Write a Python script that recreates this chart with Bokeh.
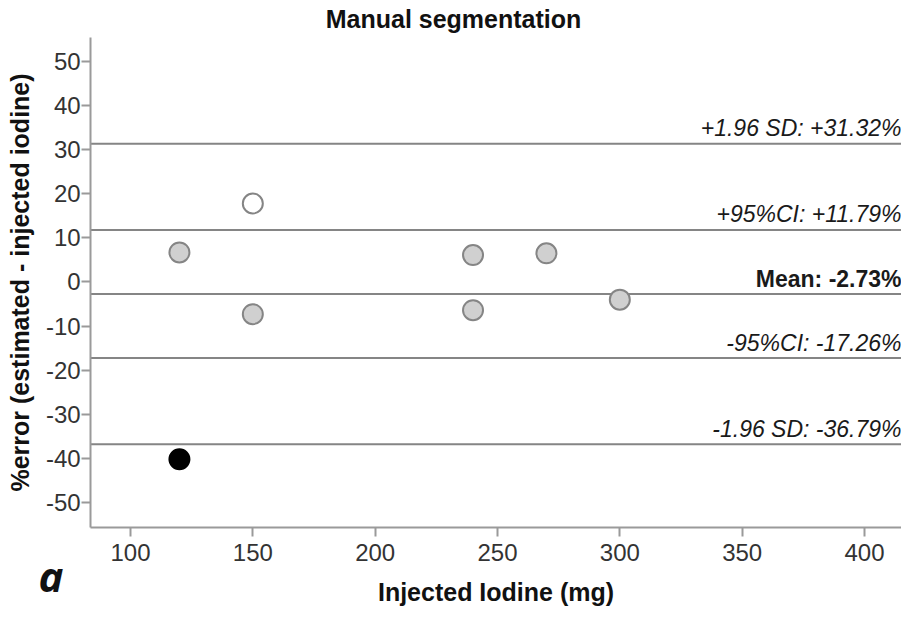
from bokeh.plotting import figure
from bokeh.models import Label, Range1d, FixedTicker, LinearAxis, CustomJSTickFormatter
from bokeh.embed import file_html
from bokeh.resources import INLINE

# ---- data ----
gray_x = [120, 150, 240, 240, 270, 300]
gray_y = [6.7, -7.3, 6.1, -6.4, 6.5, -4.0]
white_x = [150]
white_y = [17.8]
black_x = [120]
black_y = [-40.2]

limit_values = [31.32, 11.79, -2.73, -17.26, -36.79]
limit_labels = ["+1.96 SD: +31.32%", "+95%CI: +11.79%", "Mean: -2.73%",
                "-95%CI: -17.26%", "-1.96 SD: -36.79%"]
limit_bold = [False, False, True, False, False]

x_ticks = [100, 150, 200, 250, 300, 350, 400]
y_ticks = [-50, -40, -30, -20, -10, 0, 10, 20, 30, 40, 50]

# ---- layout ----
W, H = 901, 608
X0, X1 = 46.87, 415.13
Y0, Y1 = -74.04, 63.83
AX_X_MIN, AX_X_MAX = 83.7, X1
AX_Y_MIN, AX_Y_MAX = -55.7, 55.4
FONT = "Liberation Sans"


def px_x(px):
    return X0 + px / W * (X1 - X0)


def px_y(py):
    return Y1 - py / H * (Y1 - Y0)


def dpx_y(d):
    return d / H * (Y1 - Y0)


p = figure(width=W, height=H, output_backend="svg", toolbar_location=None,
           x_range=Range1d(X0, X1), y_range=Range1d(Y0, Y1),
           x_axis_location=None, y_axis_location=None,
           min_border=0, min_border_left=0, min_border_right=0,
           min_border_top=0, min_border_bottom=0)
p.outline_line_color = None
p.grid.visible = False
p.background_fill_color = "white"
p.border_fill_color = "white"

xaxis = LinearAxis(fixed_location=AX_Y_MIN, bounds=(AX_X_MIN, AX_X_MAX),
                   ticker=FixedTicker(ticks=x_ticks),
                   axis_label="Injected Iodine (mg)")
yaxis = LinearAxis(fixed_location=AX_X_MIN, bounds=(AX_Y_MIN, AX_Y_MAX),
                   ticker=FixedTicker(ticks=y_ticks),
                   axis_label="%error (estimated - injected iodine)")
for ax in (xaxis, yaxis):
    ax.formatter = CustomJSTickFormatter(code="return tick.toFixed(0);")
    ax.axis_line_color = "#9a9a9a"
    ax.axis_line_width = 2
    ax.major_tick_line_color = "#9a9a9a"
    ax.major_tick_line_width = 2
    ax.major_tick_out = 9
    ax.major_tick_in = 0
    ax.minor_tick_line_color = None
    ax.major_label_text_font = FONT
    ax.major_label_text_font_size = "24px"
    ax.major_label_text_color = "#333333"
    ax.axis_label_text_font = FONT
    ax.axis_label_text_font_size = "25px"
    ax.axis_label_text_font_style = "bold"
    ax.axis_label_text_color = "#111111"
xaxis.major_label_standoff = 7
yaxis.major_label_standoff = 1
xaxis.axis_label_standoff = 14
yaxis.axis_label_standoff = 9
p.add_layout(xaxis, "below")
p.add_layout(yaxis, "left")

# limit lines
p.segment(x0=[AX_X_MIN] * len(limit_values), y0=limit_values,
          x1=[AX_X_MAX] * len(limit_values), y1=limit_values,
          line_color="#858585", line_width=2)
for v, txt, bold in zip(limit_values, limit_labels, limit_bold):
    p.add_layout(Label(x=AX_X_MAX, y=v + dpx_y(15.5), text=txt, text_align="right",
                       text_baseline="middle",
                       text_font=FONT, text_font_size="23px",
                       text_font_style="bold" if bold else "italic",
                       text_color="#1a1a1a"))

p.scatter(gray_x, gray_y, size=20, fill_color="#d0d0d0", line_color="#858585",
          line_width=2)
p.scatter(white_x, white_y, size=20, fill_color="white", line_color="#858585",
          line_width=2)
p.scatter(black_x, black_y, size=20, fill_color="black", line_color="black",
          line_width=2)

# title and panel letter
p.add_layout(Label(x=px_x(453), y=px_y(18), text="Manual segmentation",
                   text_align="center", text_baseline="middle",
                   text_font=FONT, text_font_size="25px", text_font_style="bold",
                   text_color="#111111"))
p.add_layout(Label(x=px_x(38), y=px_y(575), text="a", text_align="left",
                   text_baseline="middle", text_font="Open Sans",
                   text_font_size="42px", text_font_style="bold italic",
                   text_color="#111111"))

open("out.html", "w").write(file_html(p, INLINE))
